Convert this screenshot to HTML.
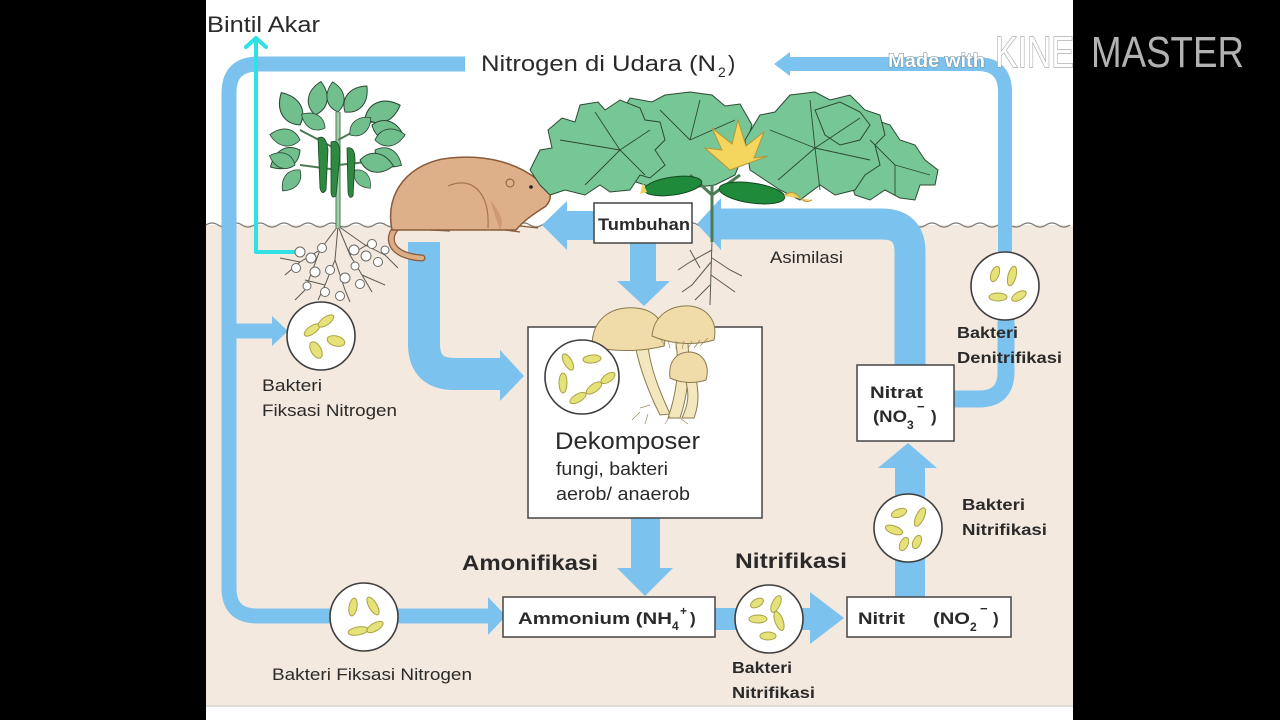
<!DOCTYPE html>
<html>
<head>
<meta charset="utf-8">
<style>
html,body{margin:0;padding:0;background:#000;width:1280px;height:720px;overflow:hidden;}
svg{display:block;}
text{font-family:"Liberation Sans",sans-serif;fill:#2a2a2a;}
.b{font-weight:bold;}
</style>
</head>
<body>
<svg width="1280" height="720" viewBox="0 0 1280 720" xmlns="http://www.w3.org/2000/svg">
<defs>
  <path id="lf" d="M0,0 C8,-12 22,-13 34,0 C22,13 8,12 0,0 Z"/>
</defs>
<!-- background -->
<rect x="0" y="0" width="1280" height="720" fill="#000"/>
<rect x="206" y="0" width="867" height="720" fill="#ffffff"/>
<rect x="206" y="225" width="867" height="480" fill="#f3e9de"/>
<rect x="206" y="705" width="867" height="2" fill="#dedbd6"/>
<!-- soil wavy line -->
<path d="M206,225 q6,-4 12,0 t12,0 t12,0 t12,0 t12,0 t12,0 t12,0 t12,0 t12,0 t12,0 t12,0 t12,0 t12,0 t12,0 t12,0 t12,0 t12,0 t12,0 t12,0 t12,0 t12,0 t12,0 t12,0 t12,0 t12,0 t12,0 t12,0 t12,0 t12,0 t12,0 t12,0 t12,0 t12,0 t12,0 t12,0 t12,0 t12,0 t12,0 t12,0 t12,0 t12,0 t12,0 t12,0 t12,0 t12,0 t12,0 t12,0 t12,0 t12,0 t12,0 t12,0 t12,0 t12,0 t12,0 t12,0 t12,0 t12,0 t12,0 t12,0 t12,0 t12,0 t12,0 t12,0 t12,0 t12,0 t12,0 t12,0 t12,0 t12,0 t12,0 t12,0 t12,0" fill="none" stroke="#7a7a72" stroke-width="1.3"/>

<!-- ===== Blue arrows ===== -->
<g fill="none" stroke="#7cc2ee" stroke-linejoin="round">
  <path d="M465,64 H258 Q229,64 229,93 V588 Q229,616 257,616 H492" stroke-width="15"/>
  <path d="M229,331 H276" stroke-width="15"/>
  <path d="M1005,270 V92 Q1005,64 977,64 H788" stroke-width="14"/>
  <path d="M1006,318 V372 Q1006,399 979,399 H950" stroke-width="17"/>
  <path d="M910,368 V252 Q910,224 882,224 H718" stroke-width="31"/>
  <path d="M424,242 V344 Q424,374 454,374 H502" stroke-width="32"/>
  <path d="M910,600 V465" stroke-width="30"/>
  <path d="M712,619 H812" stroke-width="22"/>
</g>
<g fill="#7cc2ee">
  <polygon points="488,597 506,616 488,635"/>
  <polygon points="272,316 288,331 272,346"/>
  <polygon points="790,52 774,64 790,76"/>
  <polygon points="697,224 721,198 721,250"/>
  <polygon points="500,350 524,376 500,401"/>
  <polygon points="878,468 908,443 937,468"/>
  <polygon points="810,592 844,618 810,644"/>
  <rect x="564" y="211" width="32" height="29"/>
  <polygon points="542,225 567,201 567,250"/>
  <rect x="630" y="241" width="26" height="42"/>
  <polygon points="617,281 670,281 644,306"/>
  <rect x="631" y="516" width="29" height="54"/>
  <polygon points="617,568 673,568 645,596"/>
</g>

<!-- cyan Bintil Akar arrow -->
<g fill="none" stroke="#2fe0e4" stroke-width="4" stroke-linecap="round" stroke-linejoin="round">
  <path d="M296,252 H256 V40"/>
  <path d="M246,47 L256,38 L266,47"/>
</g>

<!-- ===== Left plant ===== -->
<g stroke="#5a5a55" stroke-width="1" fill="none">
  <path d="M338,226 L320,250 L300,262 L285,275"/>
  <path d="M338,226 L335,260 L325,285 L318,300"/>
  <path d="M338,226 L350,255 L362,275 L372,292"/>
  <path d="M338,226 L365,245 L385,255 L398,268"/>
  <path d="M320,250 L305,290 L295,300"/>
  <path d="M335,260 L345,290 L350,302"/>
  <path d="M362,275 L385,285"/>
  <path d="M300,262 L280,258"/>
  <path d="M350,255 L375,240"/>
  <path d="M325,285 L305,280"/>
</g>
<g fill="#ffffff" stroke="#6a6a66" stroke-width="1">
  <circle cx="300" cy="252" r="5"/><circle cx="311" cy="258" r="5"/><circle cx="322" cy="248" r="4.5"/>
  <circle cx="296" cy="268" r="4.5"/><circle cx="315" cy="272" r="5"/><circle cx="330" cy="270" r="4.5"/>
  <circle cx="354" cy="250" r="5"/><circle cx="366" cy="256" r="5"/><circle cx="378" cy="262" r="4.5"/>
  <circle cx="372" cy="244" r="4.5"/><circle cx="345" cy="278" r="5"/><circle cx="360" cy="284" r="4.5"/>
  <circle cx="325" cy="292" r="4.5"/><circle cx="340" cy="296" r="4.5"/><circle cx="385" cy="250" r="4"/>
  <circle cx="307" cy="286" r="4"/><circle cx="355" cy="266" r="4"/>
</g>
<path d="M338,228 L338,112" stroke="#4e7a56" stroke-width="5"/>
<path d="M338,228 L338,112" stroke="#9ed0a8" stroke-width="3"/>
<path d="M338,150 L300,130 M338,140 L375,120 M338,170 L300,165 M338,165 L385,160" stroke="#4e7a56" stroke-width="2"/>
<g fill="#72bf8e" stroke="#2c4a34" stroke-width="1">
  <use href="#lf" transform="translate(300,125) rotate(-120) scale(1.1)"/>
  <use href="#lf" transform="translate(315,115) rotate(-80) scale(1.0)"/>
  <use href="#lf" transform="translate(338,112) rotate(-100) scale(0.9)"/>
  <use href="#lf" transform="translate(345,112) rotate(-50) scale(1.0)"/>
  <use href="#lf" transform="translate(365,118) rotate(-20) scale(1.1)"/>
  <use href="#lf" transform="translate(372,125) rotate(20) scale(1.0)"/>
  <use href="#lf" transform="translate(300,140) rotate(-170) scale(0.9)"/>
  <use href="#lf" transform="translate(300,150) rotate(150) scale(1.0)"/>
  <use href="#lf" transform="translate(295,165) rotate(-160) scale(0.8)"/>
  <use href="#lf" transform="translate(300,170) rotate(130) scale(0.8)"/>
  <use href="#lf" transform="translate(375,140) rotate(-10) scale(0.9)"/>
  <use href="#lf" transform="translate(375,150) rotate(30) scale(0.9)"/>
  <use href="#lf" transform="translate(360,160) rotate(10) scale(1.0)"/>
  <use href="#lf" transform="translate(355,170) rotate(50) scale(0.7)"/>
  <use href="#lf" transform="translate(325,128) rotate(-150) scale(0.8)"/>
  <use href="#lf" transform="translate(350,135) rotate(-40) scale(0.8)"/>
</g>
<g fill="#2d8a40" stroke="#1b4a24" stroke-width="0.8">
  <path d="M318,138 Q326,134 328,150 L326,190 Q322,196 320,188 Z"/>
  <path d="M331,142 Q340,138 340,155 L336,196 Q331,200 331,190 Z"/>
  <path d="M347,148 Q355,146 355,160 L353,196 Q349,200 348,192 Z"/>
</g>

<!-- ===== Mole ===== -->
<path d="M398,226 C386,236 388,256 422,258" fill="none" stroke="#8a5a3a" stroke-width="7" stroke-linecap="round"/>
<path d="M398,226 C386,236 388,256 422,258" fill="none" stroke="#dcae86" stroke-width="4.5" stroke-linecap="round"/>
<path d="M392,230 C384,192 410,162 450,158 C488,154 518,164 538,180 C552,188 553,198 546,206 C534,214 524,220 516,230 Z" fill="#deb089" stroke="#8a5a3a" stroke-width="1.5"/>
<path d="M448,186 C470,176 490,190 488,228" fill="none" stroke="#a8744e" stroke-width="1.2"/>
<path d="M490,200 C500,212 505,222 500,230" fill="#c08b62" stroke="none" opacity="0.6"/>
<circle cx="510" cy="183" r="4" fill="none" stroke="#8a5a3a" stroke-width="1"/>
<circle cx="531" cy="187" r="1.8" fill="#222"/>
<path d="M505,230 L520,232 M520,226 L538,228 M430,230 L450,231" stroke="#8a5a3a" stroke-width="1.2"/>

<!-- ===== Right plant ===== -->
<g stroke="#5a5a55" stroke-width="1" fill="none">
  <path d="M712,240 L710,305"/>
  <path d="M712,250 L690,262 L678,270"/>
  <path d="M711,262 L692,285 L682,292"/>
  <path d="M712,258 L730,270 L742,276"/>
  <path d="M711,275 L735,292"/>
  <path d="M710,285 L695,300"/>
  <path d="M700,268 L690,250"/>
</g>
<g fill="#77c696" stroke="#2d4a34" stroke-width="1">
  <path d="M600,150 L605,120 L622,112 L630,98 L652,102 L665,95 L690,92 L712,95 L725,106 L740,104 L752,125 L745,150 L735,175 L715,185 L690,188 L660,190 L630,180 Z"/>
  <path d="M530,170 L540,150 L552,148 L548,130 L562,118 L575,122 L580,105 L598,102 L605,110 L620,100 L640,108 L645,120 L660,122 L665,140 L655,150 L665,165 L650,178 L640,175 L630,190 L610,192 L600,185 L585,195 L565,190 L550,195 L540,185 Z"/>
  <path d="M845,130 L870,118 L890,125 L900,140 L915,145 L925,160 L938,170 L935,185 L920,185 L915,200 L900,198 L885,190 L870,200 L855,195 L850,180 Z"/>
  <path d="M745,140 L760,115 L775,112 L790,95 L815,92 L830,100 L850,95 L865,110 L880,115 L885,135 L875,145 L880,165 L865,175 L855,190 L835,195 L820,185 L800,200 L780,190 L765,180 L750,170 Z"/>
  <path d="M815,110 L840,102 L860,112 L870,125 L860,140 L840,145 L825,135 Z"/>
</g>
<g stroke="#2d4a34" stroke-width="0.9" fill="none">
  <path d="M620,150 L560,140 M620,150 L595,112 M620,150 L650,130 M620,150 L585,185 M620,150 L645,175"/>
  <path d="M815,148 L770,130 M815,148 L810,100 M815,148 L860,118 M815,148 L870,160 M815,148 L820,190 M815,148 L778,180"/>
  <path d="M895,165 L870,140 M895,165 L930,175 M895,165 L895,195"/>
  <path d="M690,140 L700,100 M690,140 L660,110 M690,140 L735,120"/>
</g>
<path d="M712,242 L712,185 M712,195 L690,175 M712,195 L740,175" stroke="#4e7a56" stroke-width="3" fill="none"/>
<g fill="#1f8a3a" stroke="#134a20" stroke-width="1">
  <ellipse cx="673" cy="186" rx="29" ry="9" transform="rotate(-8 673 186)"/>
  <ellipse cx="752" cy="193" rx="33" ry="10" transform="rotate(8 752 193)"/>
</g>
<path d="M643,183 L647,192 L640,194 Z" fill="#f0d060"/>
<path d="M784,196 Q792,188 800,198 Q806,204 812,200" fill="#f0d060" stroke="#b8963a" stroke-width="1"/>
<g fill="#f4d65e" stroke="#b8963a" stroke-width="1">
  <path d="M730,170 L705,148 L722,150 L712,128 L732,144 L738,120 L746,146 L764,132 L754,158 L768,156 Z"/>
</g>

<!-- ===== Boxes ===== -->
<g fill="#ffffff" stroke="#444" stroke-width="1.5">
  <rect x="594" y="203" width="98" height="40"/>
  <rect x="528" y="327" width="234" height="191"/>
  <rect x="503" y="597" width="212" height="40"/>
  <rect x="847" y="597" width="164" height="40"/>
  <rect x="857" y="365" width="97" height="76"/>
</g>

<!-- ===== Mushrooms ===== -->
<g stroke="#8a7a50" stroke-width="1" fill="#f5e7bd">
  <path d="M635,345 C640,370 650,395 660,415 L670,414 C660,392 650,368 648,345 Z"/>
  <path d="M676,343 C680,370 676,395 668,418 L680,418 C688,395 690,370 688,343 Z"/>
  <path d="M685,378 C690,395 688,405 682,418 L694,418 C700,402 698,390 696,378 Z"/>
</g>
<g stroke="#8a7a50" stroke-width="1" fill="#efdca8">
  <path d="M592,346 C592,318 612,306 636,308 C660,310 668,330 664,346 C640,352 612,352 592,346 Z"/>
  <path d="M652,336 C654,314 672,305 690,306 C708,308 718,322 714,340 C695,346 670,344 652,336 Z"/>
  <path d="M670,378 C668,362 676,352 690,352 C704,353 710,366 706,380 C694,384 680,383 670,378 Z"/>
</g>
<g stroke="#a08c5a" stroke-width="0.7">
  <path d="M660,338 L665,346 M668,340 L670,348 M676,341 L676,349 M684,341 L682,349 M692,341 L688,349 M700,340 L694,348 M708,338 L700,346"/>
  <path d="M640,412 L632,420 M648,414 L645,424 M670,416 L665,424 M680,418 L688,424 M650,405 L640,408"/>
</g>

<!-- ===== Bacteria circles ===== -->
<g fill="#ffffff" stroke="#3e3e3e" stroke-width="1.6">
  <circle cx="321" cy="336" r="34"/>
  <circle cx="364" cy="617" r="34"/>
  <circle cx="582" cy="377" r="37"/>
  <circle cx="769" cy="619" r="34"/>
  <circle cx="908" cy="528" r="34"/>
  <circle cx="1005" cy="286" r="34"/>
</g>
<g fill="#e6e27a" stroke="#a9a246" stroke-width="1">
  <ellipse cx="312" cy="330" rx="9" ry="4" transform="rotate(-35 312 330)"/>
  <ellipse cx="326" cy="321" rx="9" ry="4" transform="rotate(-35 326 321)"/>
  <ellipse cx="336" cy="341" rx="9" ry="5" transform="rotate(15 336 341)"/>
  <ellipse cx="316" cy="350" rx="5" ry="9" transform="rotate(-30 316 350)"/>
  <ellipse cx="353" cy="607" rx="4" ry="9" transform="rotate(10 353 607)"/>
  <ellipse cx="373" cy="606" rx="4" ry="10" transform="rotate(-30 373 606)"/>
  <ellipse cx="358" cy="631" rx="10" ry="4" transform="rotate(-10 358 631)"/>
  <ellipse cx="375" cy="627" rx="9" ry="4" transform="rotate(-30 375 627)"/>
  <ellipse cx="568" cy="362" rx="4" ry="9" transform="rotate(-30 568 362)"/>
  <ellipse cx="592" cy="359" rx="9" ry="4" transform="rotate(-5 592 359)"/>
  <ellipse cx="563" cy="383" rx="4" ry="10"/>
  <ellipse cx="578" cy="398" rx="9" ry="4" transform="rotate(-30 578 398)"/>
  <ellipse cx="594" cy="388" rx="9" ry="4" transform="rotate(-35 594 388)"/>
  <ellipse cx="608" cy="378" rx="8" ry="4" transform="rotate(-35 608 378)"/>
  <ellipse cx="757" cy="603" rx="7" ry="4" transform="rotate(-30 757 603)"/>
  <ellipse cx="776" cy="604" rx="4" ry="9" transform="rotate(25 776 604)"/>
  <ellipse cx="758" cy="619" rx="9" ry="4"/>
  <ellipse cx="779" cy="621" rx="4" ry="10" transform="rotate(-20 779 621)"/>
  <ellipse cx="768" cy="636" rx="8" ry="4"/>
  <ellipse cx="899" cy="513" rx="8" ry="4" transform="rotate(-20 899 513)"/>
  <ellipse cx="920" cy="517" rx="4" ry="10" transform="rotate(25 920 517)"/>
  <ellipse cx="894" cy="530" rx="9" ry="4" transform="rotate(20 894 530)"/>
  <ellipse cx="904" cy="544" rx="4" ry="7" transform="rotate(25 904 544)"/>
  <ellipse cx="917" cy="542" rx="4" ry="7" transform="rotate(25 917 542)"/>
  <ellipse cx="995" cy="274" rx="4" ry="8" transform="rotate(20 995 274)"/>
  <ellipse cx="1012" cy="276" rx="4" ry="10" transform="rotate(15 1012 276)"/>
  <ellipse cx="998" cy="297" rx="9" ry="4"/>
  <ellipse cx="1019" cy="296" rx="8" ry="4" transform="rotate(-30 1019 296)"/>
</g>

<!-- ===== Text ===== -->
<text x="207" y="32" font-size="22" textLength="113" lengthAdjust="spacingAndGlyphs">Bintil Akar</text>
<text x="481" y="71" font-size="22" textLength="235" lengthAdjust="spacingAndGlyphs">Nitrogen di Udara (N</text>
<text x="718" y="77" font-size="14">2</text>
<text x="728" y="71" font-size="22">)</text>

<text x="598" y="230" font-size="17" class="b" textLength="92" lengthAdjust="spacingAndGlyphs">Tumbuhan</text>
<text x="770" y="263" font-size="17" textLength="73" lengthAdjust="spacingAndGlyphs">Asimilasi</text>

<text x="262" y="391" font-size="17" textLength="60" lengthAdjust="spacingAndGlyphs">Bakteri</text>
<text x="262" y="416" font-size="17" textLength="135" lengthAdjust="spacingAndGlyphs">Fiksasi Nitrogen</text>
<text x="272" y="680" font-size="17" textLength="200" lengthAdjust="spacingAndGlyphs">Bakteri Fiksasi Nitrogen</text>

<text x="555" y="449" font-size="24" textLength="145" lengthAdjust="spacingAndGlyphs">Dekomposer</text>
<text x="556" y="475" font-size="18" textLength="112" lengthAdjust="spacingAndGlyphs">fungi, bakteri</text>
<text x="556" y="500" font-size="18" textLength="134" lengthAdjust="spacingAndGlyphs">aerob/ anaerob</text>

<text x="462" y="570" font-size="21" class="b" textLength="136" lengthAdjust="spacingAndGlyphs">Amonifikasi</text>
<text x="735" y="568" font-size="21" class="b" textLength="112" lengthAdjust="spacingAndGlyphs">Nitrifikasi</text>

<text x="518" y="624" font-size="17" class="b" textLength="154" lengthAdjust="spacingAndGlyphs">Ammonium (NH</text>
<text x="672" y="630" font-size="12" class="b">4</text>
<text x="680" y="615" font-size="12" class="b">+</text>
<text x="690" y="624" font-size="17" class="b">)</text>

<text x="858" y="624" font-size="17" class="b" textLength="47" lengthAdjust="spacingAndGlyphs">Nitrit</text>
<text x="933" y="624" font-size="17" class="b" textLength="37" lengthAdjust="spacingAndGlyphs">(NO</text>
<text x="970" y="631" font-size="12" class="b">2</text>
<text x="980" y="613" font-size="13" class="b">−</text>
<text x="993" y="624" font-size="17" class="b">)</text>

<text x="870" y="398" font-size="17" class="b" textLength="53" lengthAdjust="spacingAndGlyphs">Nitrat</text>
<text x="873" y="422" font-size="17" class="b" textLength="34" lengthAdjust="spacingAndGlyphs">(NO</text>
<text x="907" y="429" font-size="12" class="b">3</text>
<text x="917" y="411" font-size="13" class="b">−</text>
<text x="931" y="422" font-size="17" class="b">)</text>

<text x="732" y="673" font-size="16" class="b" textLength="60" lengthAdjust="spacingAndGlyphs">Bakteri</text>
<text x="732" y="698" font-size="16" class="b" textLength="83" lengthAdjust="spacingAndGlyphs">Nitrifikasi</text>
<text x="962" y="510" font-size="16" class="b" textLength="63" lengthAdjust="spacingAndGlyphs">Bakteri</text>
<text x="962" y="535" font-size="16" class="b" textLength="85" lengthAdjust="spacingAndGlyphs">Nitrifikasi</text>
<text x="957" y="338" font-size="16" class="b" textLength="61" lengthAdjust="spacingAndGlyphs">Bakteri</text>
<text x="957" y="363" font-size="16" class="b" textLength="105" lengthAdjust="spacingAndGlyphs">Denitrifikasi</text>

<!-- watermark -->
<text x="888" y="67" font-size="19" font-weight="bold" textLength="97" lengthAdjust="spacingAndGlyphs" style="fill:#ffffff;stroke:#6f8c94;stroke-width:1;paint-order:stroke;">Made with</text>
<text x="995" y="67" font-size="44" textLength="79" lengthAdjust="spacingAndGlyphs" style="fill:#ffffff;stroke:#9c9c9c;stroke-width:1.3;paint-order:stroke;">KINE</text>
<text x="1091" y="67" font-size="44" textLength="153" lengthAdjust="spacingAndGlyphs" style="fill:#b2b2b2;">MASTER</text>
</svg>
</body>
</html>
